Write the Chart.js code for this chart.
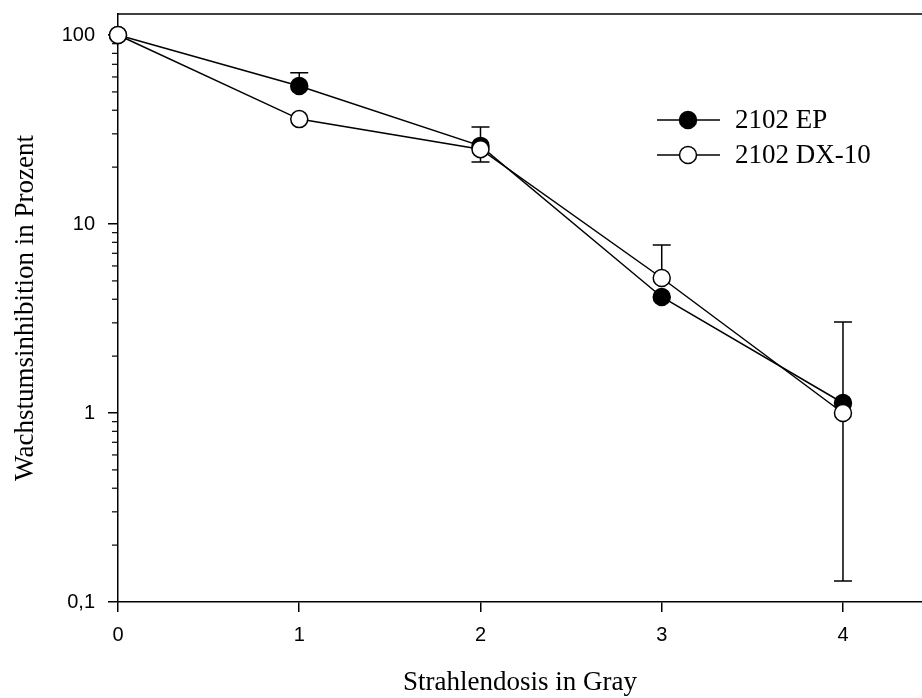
<!DOCTYPE html>
<html>
<head>
<meta charset="utf-8">
<script src="https://cdn.jsdelivr.net/npm/chart.js@4.4.0/dist/chart.umd.min.js"></script>
<style>
  html, body { margin: 0; padding: 0; background: #fff; }
  canvas { display: block; }
</style>
</head>
<body>
<canvas id="chart" width="922" height="698"></canvas>
<script>
// Strahlendosis (Gray)
const dose = [0, 1, 2, 3, 4];

// Wachstumsinhibition in Prozent
const ep = [100, 53.7, 25.9, 4.11, 1.13];
const dx = [100, 35.9, 24.9, 5.18, 1.0];

// error bar ends (null = not drawn)
const epHigh = [null, 63.2, 32.6, null, null];
const epLow = [null, null, 21.3, null, null];
const dxHigh = [null, null, null, 7.74, 3.03];
const dxLow = [null, null, null, null, 0.129];

const yTicks = [0.1, 1, 10, 100];
const xTicks = [0, 1, 2, 3, 4];

const serif = 'Liberation Serif';
const sans = 'Liberation Sans';

const errorBars = {
  id: 'errorBars',
  beforeDatasetsDraw(chart) {
    const { ctx, scales: { x, y } } = chart;
    ctx.save();
    ctx.strokeStyle = '#000';
    ctx.lineWidth = 1.5;
    chart.data.datasets.forEach(ds => {
      ds.data.forEach((p, i) => {
        const px = x.getPixelForValue(p.x);
        const py = y.getPixelForValue(p.y);
        [ds.errHigh[i], ds.errLow[i]].forEach(e => {
          if (e == null) return;
          const ey = y.getPixelForValue(e);
          ctx.beginPath();
          ctx.moveTo(px, py);
          ctx.lineTo(px, ey);
          ctx.moveTo(px - 9, ey);
          ctx.lineTo(px + 9, ey);
          ctx.stroke();
        });
      });
    });
    ctx.restore();
  }
};

const frame = {
  id: 'frame',
  afterDraw(chart) {
    const { ctx, chartArea, scales: { y } } = chart;
    ctx.save();
    ctx.strokeStyle = '#000';
    ctx.lineWidth = 1.5;
    // top line
    ctx.beginPath();
    ctx.moveTo(chartArea.left, chartArea.top);
    ctx.lineTo(chartArea.right, chartArea.top);
    ctx.stroke();
    // minor log ticks
    ctx.lineWidth = 1.2;
    for (let d = -1; d < 2; d++) {
      for (let k = 2; k <= 9; k++) {
        const py = y.getPixelForValue(k * Math.pow(10, d));
        ctx.beginPath();
        ctx.moveTo(chartArea.left - 6, py);
        ctx.lineTo(chartArea.left, py);
        ctx.stroke();
      }
    }
    ctx.restore();
  }
};

const legendBox = {
  id: 'legendBox',
  afterDraw(chart) {
    const { ctx } = chart;
    ctx.save();
    chart.data.datasets.forEach((ds, i) => {
      const ry = 120 + i * 35;
      ctx.strokeStyle = '#000';
      ctx.lineWidth = 1.5;
      ctx.beginPath();
      ctx.moveTo(657, ry);
      ctx.lineTo(720, ry);
      ctx.stroke();
      ctx.beginPath();
      ctx.arc(688, ry, 8.5, 0, Math.PI * 2);
      ctx.fillStyle = ds.pointBackgroundColor;
      ctx.fill();
      ctx.stroke();
      ctx.fillStyle = '#000';
      ctx.font = '27px "' + serif + '"';
      ctx.textBaseline = 'middle';
      ctx.textAlign = 'left';
      ctx.fillText(ds.label, 735, ry + 1);
    });
    ctx.restore();
  }
};

const ctx = document.getElementById('chart').getContext('2d');
new Chart(ctx, {
  type: 'line',
  data: {
    datasets: [
      {
        label: '2102 EP',
        data: dose.map((d, i) => ({ x: d, y: ep[i] })),
        errHigh: epHigh,
        errLow: epLow,
        borderColor: '#000',
        borderWidth: 1.5,
        pointRadius: 8.5,
        pointBorderWidth: 1.5,
        pointBackgroundColor: '#000',
        pointBorderColor: '#000',
        clip: false,
        order: 1
      },
      {
        label: '2102 DX-10',
        data: dose.map((d, i) => ({ x: d, y: dx[i] })),
        errHigh: dxHigh,
        errLow: dxLow,
        borderColor: '#000',
        borderWidth: 1.5,
        pointRadius: 8.5,
        pointBorderWidth: 1.5,
        pointBackgroundColor: '#fff',
        pointBorderColor: '#000',
        clip: false,
        order: 0
      }
    ]
  },
  options: {
    responsive: false,
    animation: false,
    devicePixelRatio: 1,
    layout: { autoPadding: false, padding: { top: 14, left: 0, right: 0, bottom: 0 } },
    plugins: {
      legend: { display: false },
      tooltip: { enabled: false }
    },
    scales: {
      x: {
        type: 'linear',
        min: 0,
        max: 4.436,
        afterBuildTicks: scale => { scale.ticks = xTicks.map(v => ({ value: v })); },
        afterFit: scale => {
          scale.height = 96;
          scale.paddingLeft = 0;
          scale.paddingRight = 0;
        },
        grid: { drawOnChartArea: false, color: '#000', lineWidth: 1.5, tickLength: 10 },
        border: { color: '#000', width: 1.5 },
        ticks: { color: '#000', padding: 11, font: { family: sans, size: 20 }, maxRotation: 0 },
        title: {
          display: true,
          text: 'Strahlendosis in Gray',
          color: '#000',
          font: { family: serif, size: 27, lineHeight: 1 },
          padding: { top: 0, bottom: 2 }
        }
      },
      y: {
        type: 'logarithmic',
        min: 0.1,
        max: 129.2,
        afterBuildTicks: scale => { scale.ticks = yTicks.map(v => ({ value: v })); },
        afterFit: scale => {
          scale.width = 118;
          scale.paddingTop = 0;
          scale.paddingBottom = 0;
        },
        grid: { drawOnChartArea: false, color: '#000', lineWidth: 1.5, tickLength: 10 },
        border: { color: '#000', width: 1.5 },
        ticks: {
          color: '#000',
          padding: 13,
          font: { family: sans, size: 20 },
          callback: v => String(v).replace('.', ',')
        },
        title: {
          display: true,
          text: 'Wachstumsinhibition in Prozent',
          color: '#000',
          font: { family: serif, size: 27, lineHeight: 1 },
          padding: { top: 12, bottom: 0 }
        }
      }
    }
  },
  plugins: [errorBars, frame, legendBox]
});
</script>
</body>
</html>
